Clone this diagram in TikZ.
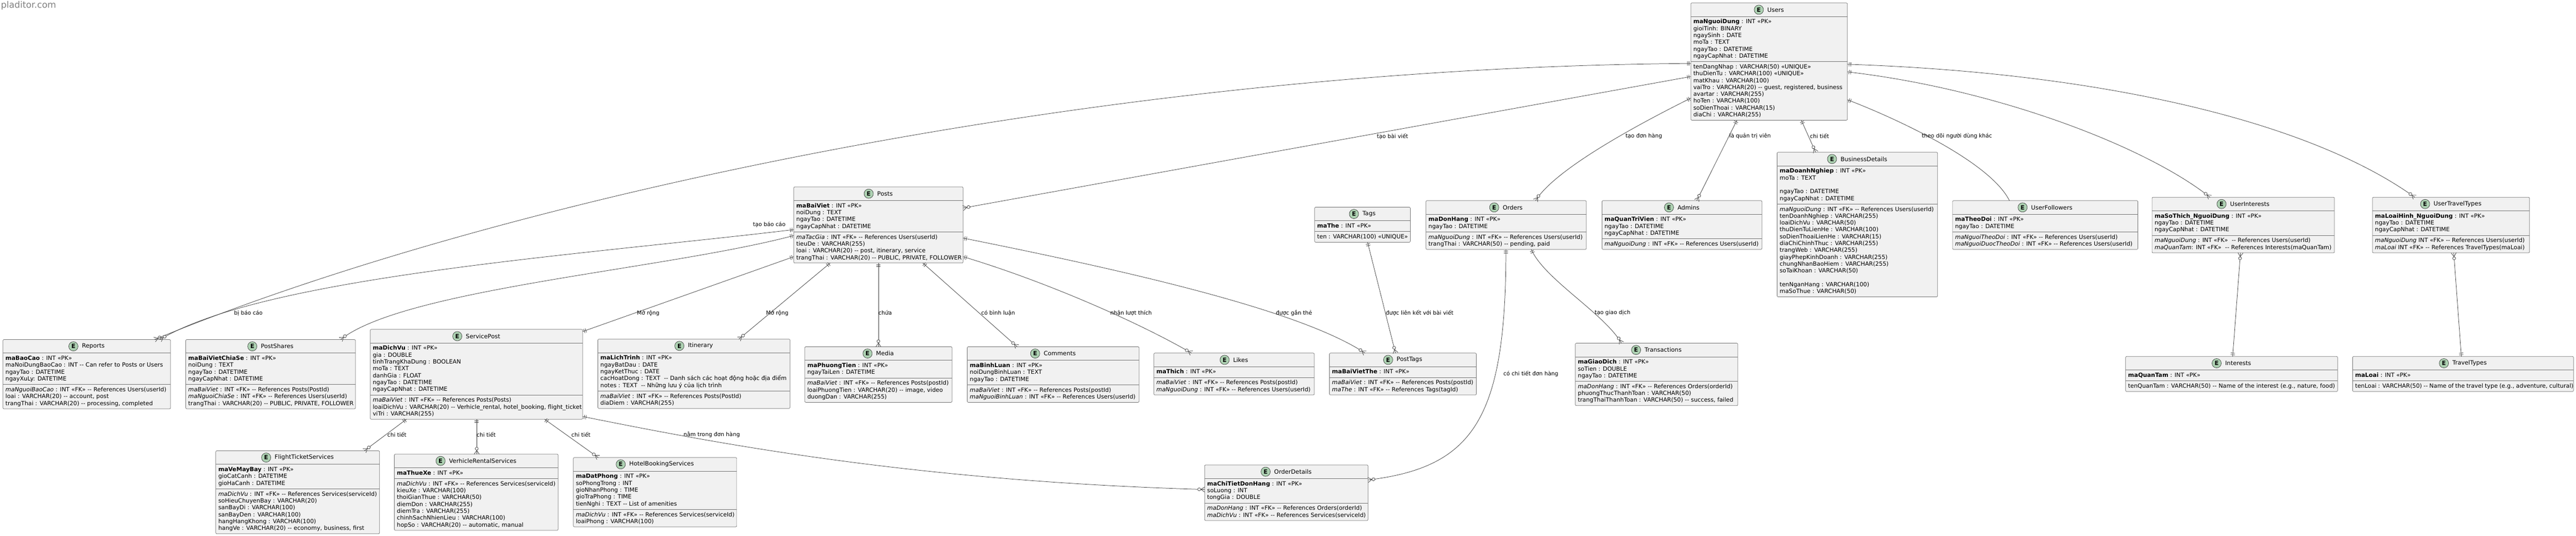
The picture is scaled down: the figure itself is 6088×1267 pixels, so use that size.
\documentclass[tikz,border=0pt]{standalone}
\usepackage{fontspec}
\setmainfont{DejaVu Sans}[Ligatures=TeXOff]
\usetikzlibrary{decorations.markings}
\definecolor{efill}{HTML}{F1F1F1}
\definecolor{ebd}{HTML}{707070}
\definecolor{ecfill}{HTML}{ADD1B2}
\definecolor{lnc}{HTML}{383838}
\newlength\ew
\newcommand\erow[1]{\hbox to\ew{\vrule width0pt height12.2pt depth4pt\hskip6pt#1\hfil}}
\newcommand\erule{{\color{ebd}\hrule height0.8pt}}
\newcommand\ebrk{\kern4.3pt\erule\kern4.3pt}
\newcommand\ebody[1]{\vbox{\offinterlineskip\hbox to\ew{\vrule width0pt height31.6pt\hfil}\erule\kern4.3pt#1\kern4.3pt}}
\newcommand\entity[6]{%
  \setlength\ew{#4pt}%
  \node[ebox,anchor=north west] (#1) at (#2,#3) {\ebody{#6}};
  \node[etitle] (#1-t) at ([xshift=15.5pt,yshift=-16pt]#1.north) {#5};
  \node[ecirc] (#1-c) at ([xshift=-20pt]#1-t.west) {E};
}
\tikzset{
  ebox/.style={draw=ebd, fill=efill, line width=0.9pt, rounded corners=2.5pt, inner sep=0pt, outer sep=0pt, font=\fontsize{13.7pt}{16.2pt}\selectfont},
  etitle/.style={inner sep=0pt, font=\fontsize{14pt}{16pt}\selectfont},
  ecirc/.style={circle, draw=lnc, fill=ecfill, line width=0.8pt, minimum size=22pt, inner sep=0pt, font=\bfseries\fontsize{14pt}{16pt}\selectfont},
  conn/.style={draw=lnc, line width=0.9pt},
  lbl/.style={inner sep=0pt, font=\fontsize{13pt}{15pt}\selectfont},
  oneS/.style={postaction={decorate,decoration={markings,mark=at position 0.01pt with {\draw[lnc,line width=0.9pt] (4pt,-5pt)--(4pt,5pt) (8pt,-5pt)--(8pt,5pt);}}}},
  oneE/.style={postaction={decorate,decoration={markings,mark=at position -0.01pt with {\draw[lnc,line width=0.9pt] (-4pt,-5pt)--(-4pt,5pt) (-8pt,-5pt)--(-8pt,5pt);}}}},
  manyE/.style={postaction={decorate,decoration={markings,mark=at position -0.01pt with {\draw[lnc,line width=0.9pt] (0pt,-6pt)--(-9pt,0pt)--(0pt,6pt); \draw[lnc,line width=0.9pt,fill=white] (-13pt,0pt) circle (3.5pt);}}}}
}
\begin{document}
\begin{tikzpicture}[x=1pt,y=-1pt]
\fill[white] (0,0) rectangle (6088,1267);
\useasboundingbox (0,0) rectangle (6088,1267);
\node[anchor=north west, inner sep=0pt, text=gray, font=\fontsize{21pt}{24pt}\selectfont] (wm) at (2,3) {pladitor.com};

\entity{users}{3996}{7}{370}{Users}{%
\erow{\textbf{maNguoiDung} : INT «PK»}
\erow{gioiTinh: BINARY}
\erow{ngaySinh : DATE}
\erow{moTa : TEXT}
\erow{ngayTao : DATETIME}
\erow{ngayCapNhat : DATETIME}
\ebrk
\erow{tenDangNhap : VARCHAR(50) «UNIQUE»}
\erow{thuDienTu : VARCHAR(100) «UNIQUE»}
\erow{matKhau : VARCHAR(100)}
\erow{vaiTro : VARCHAR(20) -- guest, registered, business}
\erow{avartar : VARCHAR(255)}
\erow{hoTen : VARCHAR(100)}
\erow{soDienThoai : VARCHAR(15)}
\erow{diaChi : VARCHAR(255)}}

\entity{posts}{1876}{442}{400}{Posts}{%
\erow{\textbf{maBaiViet} : INT «PK»}
\erow{noiDung : TEXT}
\erow{ngayTao : DATETIME}
\erow{ngayCapNhat : DATETIME}
\ebrk
\erow{\textit{maTacGia} : INT «FK» -- References Users(userId)}
\erow{tieuDe : VARCHAR(255)}
\erow{loai : VARCHAR(20) -- post, itinerary, service}
\erow{trangThai : VARCHAR(20) -- PUBLIC, PRIVATE, FOLLOWER}}

\entity{reports}{7}{803}{396}{Reports}{%
\erow{\textbf{maBaoCao} : INT «PK»}
\erow{maNoiDungBaoCao : INT -- Can refer to Posts or Users}
\erow{ngayTao : DATETIME}
\erow{ngayXuLy: DATETIME}
\ebrk
\erow{\textit{maNguoiBaoCao} : INT «FK» -- References Users(userId)}
\erow{loai : VARCHAR(20) -- account, post}
\erow{trangThai : VARCHAR(20) -- processing, completed}}

\entity{postshares}{439}{803}{401}{PostShares}{%
\erow{\textbf{maBaiVietChiaSe} : INT «PK»}
\erow{noiDung : TEXT}
\erow{ngayTao : DATETIME}
\erow{ngayCapNhat : DATETIME}
\ebrk
\erow{\textit{maBaiViet} : INT «FK» -- References Posts(PostId)}
\erow{\textit{maNguoiChiaSe} : INT «FK» -- References Users(userId)}
\erow{trangThai : VARCHAR(20) -- PUBLIC, PRIVATE, FOLLOWER}}

\entity{servicepost}{875}{779}{502}{ServicePost}{%
\erow{\textbf{maDichVu} : INT «PK»}
\erow{gia : DOUBLE}
\erow{tinhTrangKhaDung : BOOLEAN}
\erow{moTa : TEXT}
\erow{danhGia : FLOAT}
\erow{ngayTao : DATETIME}
\erow{ngayCapNhat : DATETIME}
\ebrk
\erow{\textit{maBaiViet} : INT «FK» -- References Posts(Posts)}
\erow{loaiDichVu : VARCHAR(20) -- Verhicle\_rental, hotel\_booking, flight\_ticket}
\erow{viTri : VARCHAR(255)}}

\entity{itinerary}{1413}{802}{454}{Itinerary}{%
\erow{\textbf{maLichTrinh} : INT «PK»}
\erow{ngayBatDau : DATE}
\erow{ngayKetThuc : DATE}
\erow{cacHoatDong : TEXT~ -- Danh sách các hoạt động hoặc địa điểm}
\erow{notes : TEXT~ -- Những lưu ý của lịch trình}
\ebrk
\erow{\textit{maBaiViet} : INT «FK» -- References Posts(PostId)}
\erow{diaDiem : VARCHAR(255)}}

\entity{media}{1902}{820}{348}{Media}{%
\erow{\textbf{maPhuongTien} : INT «PK»}
\erow{ngayTaiLen : DATETIME}
\ebrk
\erow{\textit{maBaiViet} : INT «FK» -- References Posts(postId)}
\erow{loaiPhuongTien : VARCHAR(20) -- image, video}
\erow{duongDan : VARCHAR(255)}}

\entity{comments}{2286}{820}{406}{Comments}{%
\erow{\textbf{maBinhLuan} : INT «PK»}
\erow{noiDungBinhLuan : TEXT}
\erow{ngayTao : DATETIME}
\ebrk
\erow{\textit{maBaiViet} : INT «FK» -- References Posts(postId)}
\erow{\textit{maNguoiBinhLuan} : INT «FK» -- References Users(userId)}}

\entity{likes}{2727}{835}{379}{Likes}{%
\erow{\textbf{maThich} : INT «PK»}
\ebrk
\erow{\textit{maBaiViet} : INT «FK» -- References Posts(postId)}
\erow{\textit{maNguoiDung} : INT «FK» -- References Users(userId)}}

\entity{posttags}{3142}{835}{347}{PostTags}{%
\erow{\textbf{maBaiVietThe} : INT «PK»}
\ebrk
\erow{\textit{maBaiViet} : INT «FK» -- References Posts(postId)}
\erow{\textit{maThe} : INT «FK» -- References Tags(tagId)}}

\entity{tags}{3107}{490}{226}{Tags}{%
\erow{\textbf{maThe} : INT «PK»}
\ebrk
\erow{ten : VARCHAR(100) «UNIQUE»}}

\entity{orders}{3370}{474.5}{379}{Orders}{%
\erow{\textbf{maDonHang} : INT «PK»}
\erow{ngayTao : DATETIME}
\ebrk
\erow{\textit{maNguoiDung} : INT «FK» -- References Users(userId)}
\erow{trangThai : VARCHAR(50) -- pending, paid}}

\entity{admins}{3786}{474.5}{378}{Admins}{%
\erow{\textbf{maQuanTriVien} : INT «PK»}
\erow{ngayTao : DATETIME}
\erow{ngayCapNhat : DATETIME}
\ebrk
\erow{\textit{maNguoiDung} : INT «FK» -- References Users(userId)}}

\entity{business}{4200}{360}{379}{BusinessDetails}{%
\erow{\textbf{maDoanhNghiep} : INT «PK»}
\erow{moTa : TEXT}
\erow{}
\erow{ngayTao : DATETIME}
\erow{ngayCapNhat : DATETIME}
\ebrk
\erow{\textit{maNguoiDung} : INT «FK» -- References Users(userId)}
\erow{tenDoanhNghiep : VARCHAR(255)}
\erow{loaiDichVu : VARCHAR(50)}
\erow{thuDienTuLienHe : VARCHAR(100)}
\erow{soDienThoaiLienHe : VARCHAR(15)}
\erow{diaChiChinhThuc : VARCHAR(255)}
\erow{trangWeb : VARCHAR(255)}
\erow{giayPhepKinhDoanh : VARCHAR(255)}
\erow{chungNhanBaoHiem : VARCHAR(255)}
\erow{soTaiKhoan : VARCHAR(50)}
\erow{}
\erow{tenNganHang : VARCHAR(100)}
\erow{maSoThue : VARCHAR(50)}}

\entity{followers}{4614.5}{474.5}{438}{UserFollowers}{%
\erow{\textbf{maTheoDoi} : INT «PK»}
\erow{ngayTao : DATETIME}
\ebrk
\erow{\textit{maNguoiTheoDoi} : INT «FK» -- References Users(userId)}
\erow{\textit{maNguoiDuocTheoDoi} : INT «FK» -- References Users(userId)}}

\entity{uinterests}{5086}{466.5}{431}{UserInterests}{%
\erow{\textbf{maSoThich\_NguoiDung} : INT «PK»}
\erow{ngayTao : DATETIME}
\erow{ngayCapNhat : DATETIME}
\ebrk
\erow{\textit{maNguoiDung} : INT «FK»~ -- References Users(userId)}
\erow{\textit{maQuanTam}: INT «FK»~ -- References Interests(maQuanTam)}}

\entity{utravel}{5607}{466.5}{371}{UserTravelTypes}{%
\erow{\textbf{maLoaiHinh\_NguoiDung} : INT «PK»}
\erow{ngayTao : DATETIME}
\erow{ngayCapNhat : DATETIME}
\ebrk
\erow{\textit{maNguoiDung} INT «FK» -- References Users(userId)}
\erow{\textit{maLoai} INT «FK» -- References TravelTypes(maLoai)}}

\entity{interests}{5023.5}{843}{501}{Interests}{%
\erow{\textbf{maQuanTam} : INT «PK»}
\ebrk
\erow{tenQuanTam : VARCHAR(50) -- Name of the interest (e.g., nature, food)}}

\entity{traveltypes}{5560}{843}{522}{TravelTypes}{%
\erow{\textbf{maLoai} : INT «PK»}
\ebrk
\erow{tenLoai : VARCHAR(50) -- Name of the travel type (e.g., adventure, cultural)}}

\entity{transactions}{3723}{811.6}{384}{Transactions}{%
\erow{\textbf{maGiaoDich} : INT «PK»}
\erow{soTien : DOUBLE}
\erow{ngayTao : DATETIME}
\ebrk
\erow{\textit{maDonHang} : INT «FK» -- References Orders(orderId)}
\erow{phuongThucThanhToan : VARCHAR(50)}
\erow{trangThaiThanhToan : VARCHAR(50) -- success, failed}}

\entity{orderdetails}{2847}{1099.5}{386}{OrderDetails}{%
\erow{\textbf{maChiTietDonHang} : INT «PK»}
\erow{soLuong : INT}
\erow{tongGia : DOUBLE}
\ebrk
\erow{\textit{maDonHang} : INT «FK» -- References Orders(orderId)}
\erow{\textit{maDichVu} : INT «FK» -- References Services(serviceId)}}

\entity{flight}{510}{1066}{387}{FlightTicketServices}{%
\erow{\textbf{maVeMayBay} : INT «PK»}
\erow{gioCatCanh : DATETIME}
\erow{gioHaCanh : DATETIME}
\ebrk
\erow{\textit{maDichVu} : INT «FK» -- References Services(serviceId)}
\erow{soHieuChuyenBay : VARCHAR(20)}
\erow{sanBayDi : VARCHAR(100)}
\erow{sanBayDen : VARCHAR(100)}
\erow{hangHangKhong : VARCHAR(100)}
\erow{hangVe : VARCHAR(20) -- economy, business, first}}

\entity{vehicle}{932}{1074}{387}{VerhicleRentalServices}{%
\erow{\textbf{maThueXe} : INT «PK»}
\ebrk
\erow{\textit{maDichVu} : INT «FK» -- References Services(serviceId)}
\erow{kieuXe : VARCHAR(100)}
\erow{thoiGianThue : VARCHAR(50)}
\erow{diemDon : VARCHAR(255)}
\erow{diemTra : VARCHAR(255)}
\erow{chinhSachNhienLieu : VARCHAR(100)}
\erow{hopSo : VARCHAR(20) -- automatic, manual}}

\entity{hotel}{1355}{1082}{386}{HotelBookingServices}{%
\erow{\textbf{maDatPhong} : INT «PK»}
\erow{soPhongTrong : INT}
\erow{gioNhanPhong : TIME}
\erow{gioTraPhong : TIME}
\erow{tienNghi : TEXT -- List of amenities}
\ebrk
\erow{\textit{maDichVu} : INT «FK» -- References Services(serviceId)}
\erow{loaiPhong : VARCHAR(100)}}

% connectors
\draw[conn,oneS,manyE] ([yshift=-174pt]users.north west) -- ([yshift=-50pt]posts.north east);
\draw[conn,oneS,manyE] ([yshift=-143pt]users.north west) .. controls +(-1400,10) and +(800,-330) .. ([xshift=358pt]reports.north west);
\draw[conn,oneS,manyE] ([yshift=-101pt]posts.north west) .. controls +(-500,60) and +(250,-150) .. ([xshift=371pt]reports.north west);
\draw[conn,oneS,manyE] ([yshift=-115pt]posts.north west) .. controls +(-300,80) and +(150,-120) .. ([xshift=366pt]postshares.north west);
\draw[conn,oneS,oneE] ([yshift=-165pt]posts.north west) -- ([yshift=-5pt]servicepost.north east);
\draw[conn,oneS,manyE] ([xshift=86pt]posts.south west) -- ([xshift=333pt]itinerary.north west);
\draw[conn,oneS,manyE] ([xshift=200pt]posts.south west) -- ([xshift=174pt]media.north west);
\draw[conn,oneS,manyE] ([xshift=305pt]posts.south west) -- ([xshift=118pt]comments.north west);
\draw[conn,oneS,manyE] ([yshift=-165pt]posts.north east) .. controls +(200,60) and +(-120,-70) .. ([xshift=89pt]likes.north west);
\draw[conn,oneS,manyE] ([yshift=-121pt]posts.north east) .. controls +(400,80) and +(-150,-100) .. ([xshift=84pt]posttags.north west);
\draw[conn,oneS,manyE] ([xshift=125pt]tags.south west) -- ([xshift=156pt]posttags.north west);
\draw[conn,oneS,manyE] ([yshift=-225pt]users.north west) .. controls +(-100,50) and +(50,-80) .. ([xshift=259pt]orders.north west);
\draw[conn,oneS,manyE] ([xshift=109pt]users.south west) -- ([xshift=224pt]admins.north west);
\draw[conn,oneS,manyE] ([xshift=261pt]users.south west) -- ([xshift=91pt]business.north west);
\draw[conn,oneS,manyE] ([yshift=-229pt]users.north east) .. controls +(80,30) and +(-50,-100) .. ([xshift=134.5pt]followers.north west);
\draw[conn,oneS,manyE] ([yshift=-163pt]users.north east) .. controls +(350,40) and +(-150,-120) .. ([xshift=137pt]uinterests.north west);
\draw[conn,oneS,manyE] ([yshift=-145pt]users.north east) .. controls +(600,20) and +(-250,-180) .. ([xshift=100pt]utravel.north west);
\draw[conn,oneS,manyE] ([xshift=253pt]interests.north west) -- ([xshift=209pt]uinterests.south west);
\draw[conn,oneS,manyE] ([xshift=257pt]traveltypes.north west) -- ([xshift=192pt]utravel.south west);
\draw[conn,oneS,manyE] ([xshift=189pt]orders.south west) .. controls +(0,400) and +(250,-30) .. ([yshift=-35.5pt]orderdetails.north east);
\draw[conn,oneS,manyE] ([xshift=249pt]orders.south west) .. controls +(30,70) and +(-40,-70) .. ([xshift=109pt]transactions.north west);
\draw[conn,oneS,manyE] ([yshift=-206pt]servicepost.north east) .. controls +(300,60) and +(-700,-20) .. ([yshift=-58pt]orderdetails.north west);
\draw[conn,oneS,manyE] ([xshift=85.6pt]servicepost.south west) -- ([xshift=351pt]flight.north west);
\draw[conn,oneS,manyE] ([xshift=251.7pt]servicepost.south west) -- ([xshift=194.7pt]vehicle.north west);
\draw[conn,oneS,manyE] ([xshift=412pt]servicepost.south west) -- ([xshift=59pt]hotel.north west);

% labels
\node[lbl] (l1) at (3291,322) {tạo bài viết};
\node[lbl] (l2) at (1818,531) {tạo báo cáo};
\node[lbl] (l3) at (587,741) {bị báo cáo};
\node[lbl] (l4) at (1532,741) {Mở rộng};
\node[lbl] (l5) at (1837,741) {Mở rộng};
\node[lbl] (l6) at (2092,740) {chứa};
\node[lbl] (l7) at (2359,740) {có bình luận};
\node[lbl] (l8) at (2673,740) {nhận lượt thích};
\node[lbl] (l9) at (3058,740) {được gắn thẻ};
\node[lbl] (l10) at (3355,740) {được liên kết với bài viết};
\node[lbl] (l11) at (3618,884.5) {có chi tiết đơn hàng};
\node[lbl] (l12) at (3811,740) {tạo giao dịch};
\node[lbl] (l13) at (3885,322) {tạo đơn hàng};
\node[lbl] (l14) at (4136,322) {là quản trị viên};
\node[lbl] (l15) at (4300,322) {chi tiết};
\node[lbl] (l16) at (4625,322) {theo dõi người dùng khác};
\node[lbl] (l17) at (938,1028) {chi tiết};
\node[lbl] (l18) at (1149,1028) {chi tiết};
\node[lbl] (l19) at (1373,1028) {chi tiết};
\node[lbl] (l20) at (1682,1028) {nằm trong đơn hàng};
\end{tikzpicture}
\end{document}
